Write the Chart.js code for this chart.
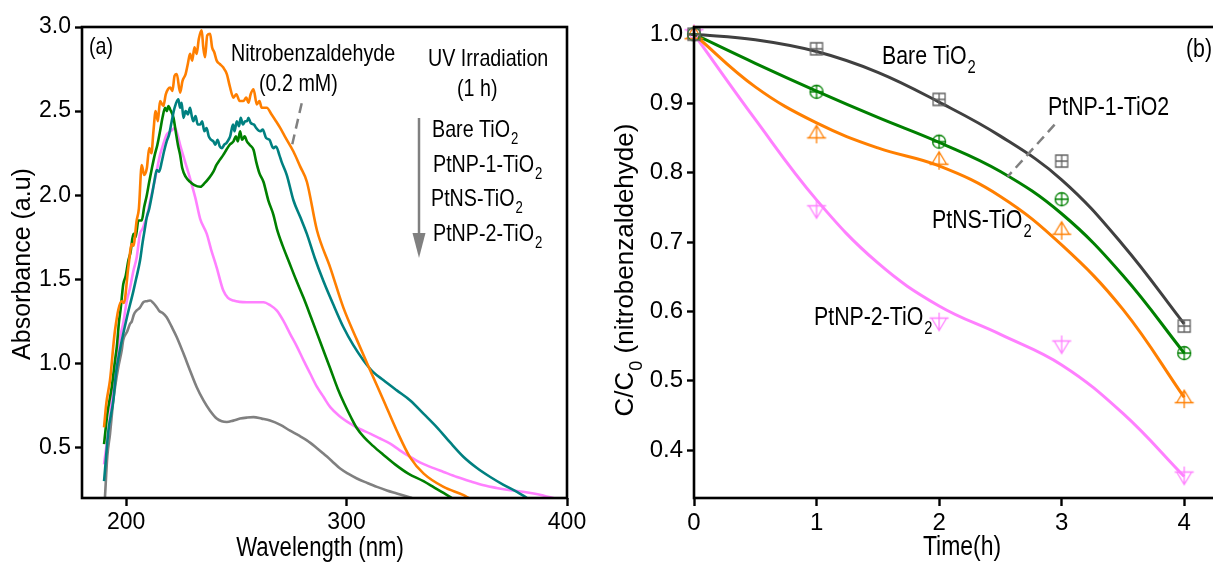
<!DOCTYPE html>
<html>
<head>
<meta charset="utf-8">
<script src="https://cdn.jsdelivr.net/npm/chart.js@4.4.0/dist/chart.umd.min.js"></script>
<style>
  html, body { margin: 0; padding: 0; background: #fff; overflow: hidden; }
  body { width: 1213px; height: 563px; position: relative; }
  .panel { position: absolute; top: 0; }
  #panelA { left: 0; }
  #panelB { left: 600px; }
</style>
</head>
<body>
<div class="panel" id="panelA"><canvas id="chartA" width="600" height="563"></canvas></div>
<div class="panel" id="panelB"><canvas id="chartB" width="640" height="563"></canvas></div>
<script>
const FONT = "'Liberation Sans', Arial, sans-serif";
const NARROW = 0.82; // the figure uses a condensed face, squeeze text to match

const ORANGE = '#ff7f00';
const TEAL = '#008080';
const GREEN = '#008000';
const PINK = '#ff80ff';
const GRAY = '#808080';
const DARK = '#404040';

// panel (a): UV-vis spectra, [wavelength (nm), absorbance]
const nitroSpectrum = [
  [190, 0.62], [191, 0.76], [192.7, 0.90], [195, 1.20], [198, 1.37], [199, 1.36], [201, 1.57],
  [202.6, 1.71], [203.3, 1.70], [204.8, 1.85], [205.8, 1.92], [207.1, 2.18], [208.2, 2.12],
  [209.4, 2.16], [210.5, 2.28], [211.5, 2.25], [212.4, 2.38], [213.4, 2.50], [214.4, 2.44],
  [215.4, 2.56], [216.9, 2.53], [218, 2.60], [219, 2.63], [220, 2.64], [221, 2.62], [222, 2.71],
  [223, 2.72], [224.5, 2.61], [225.6, 2.68], [227, 2.72], [228, 2.78], [229, 2.84], [230, 2.80],
  [231, 2.88], [232, 2.84], [233, 2.93], [234.3, 2.98], [235, 2.88], [235.8, 2.82], [236.8, 2.95],
  [238.1, 2.96], [239, 2.88], [240, 2.85], [241.1, 2.80], [242.5, 2.78], [244, 2.76], [245.7, 2.72],
  [247, 2.65], [248.7, 2.58], [250, 2.60], [251.5, 2.56], [253.2, 2.56], [254.5, 2.58], [255.5, 2.55],
  [256.5, 2.60], [257.8, 2.63], [259.3, 2.54], [260.5, 2.56], [261.5, 2.52], [263.8, 2.52],
  [266, 2.48], [268, 2.44], [269.9, 2.40], [272, 2.35], [275.9, 2.26], [279, 2.17], [282, 2.08],
  [286.6, 1.79], [292.6, 1.57], [298.6, 1.33], [304.7, 1.14], [310.7, 0.96], [316.8, 0.78],
  [322.8, 0.60], [328.9, 0.44], [335, 0.345], [344, 0.266], [353.1, 0.217], [355.4, 0.20]
];
const bareSpectrum = [
  [190, 0.30], [192, 0.60], [194.2, 0.78], [195.5, 0.95], [197.2, 1.08], [200.3, 1.27], [203.3, 1.43],
  [204.5, 1.50], [206.3, 1.61], [207.5, 1.72], [208.5, 1.80], [209.4, 1.87], [210.5, 1.92],
  [211.7, 2.00], [212.8, 2.08], [213.9, 2.15], [215, 2.14], [216.2, 2.20], [217.2, 2.26],
  [218.4, 2.32], [219.5, 2.36], [220.7, 2.44], [222, 2.52], [223.7, 2.57], [224.5, 2.52],
  [225.2, 2.55], [226, 2.46], [227, 2.50], [228, 2.48], [229, 2.52], [229.8, 2.47], [230.5, 2.44],
  [231.5, 2.47], [232.5, 2.42], [233.6, 2.42], [234.5, 2.44], [235.5, 2.38], [236.5, 2.40],
  [237.5, 2.35], [238.5, 2.33], [239.6, 2.32], [240.5, 2.30], [241.5, 2.33], [242.5, 2.29],
  [243.4, 2.28], [244.5, 2.30], [245.5, 2.31], [246.5, 2.33], [247.2, 2.35], [248.5, 2.42],
  [249.2, 2.38], [250.2, 2.44], [251.2, 2.41], [252, 2.46], [253, 2.42], [254, 2.44], [254.8, 2.44],
  [255.5, 2.46], [256.5, 2.43], [258, 2.42], [259, 2.40], [260.8, 2.38], [262, 2.39], [263.5, 2.34],
  [265, 2.33], [266.8, 2.28], [268, 2.29], [269.5, 2.24], [270.5, 2.20], [272.9, 2.12],
  [275.9, 1.97], [279, 1.87], [282, 1.77], [285.5, 1.63], [289.5, 1.49], [294, 1.35], [298.6, 1.215],
  [303, 1.11], [307.7, 1.018], [312, 0.95], [316.8, 0.90], [322.8, 0.84], [328.9, 0.78], [335, 0.70],
  [341, 0.62], [347, 0.53], [353.1, 0.444], [359, 0.38], [365.2, 0.325], [371, 0.28], [377.3, 0.236],
  [381.9, 0.20]
];
const ptnp1Spectrum = [
  [190, 0.52], [191.5, 0.70], [193.5, 0.86], [195, 1.02], [195.8, 1.10], [196.8, 1.25], [197.5, 1.32],
  [198.7, 1.47], [199.8, 1.52], [201, 1.61], [202, 1.66], [203.3, 1.77], [204.3, 1.75], [205.6, 1.85],
  [207.1, 1.85], [208.2, 1.93], [209.4, 2.00], [210.5, 2.08], [211.7, 2.16], [213, 2.24], [214.2, 2.30],
  [215.4, 2.38], [216.5, 2.46], [217.7, 2.52], [218.5, 2.50], [219.2, 2.53], [220, 2.51], [221.5, 2.46],
  [222.5, 2.38], [223.5, 2.30], [224.5, 2.24], [225.5, 2.16], [227, 2.11], [229, 2.08], [231, 2.06],
  [233.6, 2.05], [235.5, 2.07], [237.5, 2.10], [239.6, 2.14], [241, 2.18], [242.5, 2.21], [244.1, 2.24],
  [245.5, 2.27], [247, 2.30], [248.7, 2.32], [249.8, 2.35], [250.7, 2.32], [251.7, 2.38], [252.6, 2.33],
  [253.8, 2.35], [254.8, 2.32], [256, 2.30], [257.8, 2.27], [259, 2.20], [260.5, 2.13], [262.3, 2.08],
  [264.5, 1.97], [266.8, 1.885], [268.4, 1.80], [271, 1.70], [274, 1.60], [277, 1.50], [280.5, 1.39],
  [284, 1.27], [288, 1.13], [292.6, 0.97], [296, 0.85], [299, 0.76], [302, 0.68], [304.7, 0.615],
  [308, 0.56], [312, 0.51], [316.8, 0.456], [322, 0.40], [328, 0.345], [334.9, 0.30], [340, 0.26],
  [344, 0.23], [347.8, 0.20]
];
const ptnsSpectrum = [
  [190, 0.40], [192.7, 0.68], [194.2, 0.88], [195.8, 1.00], [197.2, 1.15], [198.7, 1.24], [200.3, 1.37],
  [201.8, 1.45], [203.3, 1.55], [204.8, 1.63], [206.3, 1.77], [207.5, 1.80], [208.5, 1.84], [209.4, 1.87],
  [210.8, 1.96], [212.4, 2.05], [213.8, 2.14], [215.4, 2.24], [216.8, 2.30], [218.4, 2.36], [220.2, 2.38],
  [222.2, 2.40], [223.3, 2.36], [224.5, 2.30], [226.5, 2.21], [229, 2.10], [231.5, 1.98], [233.6, 1.86],
  [236.6, 1.77], [238.5, 1.68], [241.1, 1.57], [244.1, 1.433], [246.2, 1.39], [248.7, 1.374],
  [251.5, 1.366], [254.8, 1.364], [258.5, 1.364], [262.3, 1.364], [265.5, 1.345], [268.4, 1.314],
  [271.5, 1.25], [274.4, 1.176], [277.5, 1.10], [280.5, 1.018], [283.5, 0.94], [286.6, 0.86],
  [289.6, 0.80], [292.6, 0.74], [297, 0.685], [301.7, 0.642], [306, 0.61], [310.7, 0.583], [315, 0.555],
  [319.8, 0.523], [324, 0.485], [328.9, 0.444], [333.5, 0.41], [338, 0.385], [344, 0.355], [350.1, 0.325],
  [356, 0.30], [362.2, 0.276], [368, 0.26], [374.3, 0.246], [380, 0.237], [384.9, 0.227], [389.5, 0.214],
  [393.9, 0.20]
];
const ptnp2Spectrum = [
  [190.4, 0.20], [191.5, 0.45], [192.7, 0.58], [194.2, 0.78], [195, 0.86], [196.5, 0.98], [198, 1.077],
  [198.7, 1.14], [200.5, 1.19], [201.8, 1.236], [202.6, 1.25], [203.5, 1.29], [204.8, 1.315],
  [206.2, 1.33], [207.8, 1.364], [209.3, 1.37], [210.9, 1.374], [212.3, 1.36], [213.9, 1.334],
  [215.2, 1.31], [216.6, 1.30], [218.4, 1.275], [220.6, 1.22], [223, 1.156], [226, 1.06], [229, 0.958],
  [232, 0.86], [235.1, 0.78], [238, 0.72], [241.1, 0.672], [243.4, 0.656], [245.7, 0.652], [248.6, 0.66],
  [251.7, 0.672], [254.8, 0.678], [257.8, 0.681], [261.5, 0.672], [265.3, 0.661], [270, 0.635],
  [274.4, 0.60], [278.3, 0.572], [282, 0.543], [285.8, 0.505], [289.5, 0.464], [293.3, 0.42],
  [297.1, 0.375], [300.9, 0.343], [304.7, 0.316], [309.3, 0.29], [313.8, 0.266], [318.3, 0.245],
  [322.8, 0.227], [326.3, 0.213], [329.7, 0.20]
];
const wavelengthTicks = [200, 300, 400];
const absorbanceTicks = [0.5, 1.0, 1.5, 2.0, 2.5, 3.0];

// panel (b): C/C0 against irradiation time
const hours = [0, 1, 2, 3, 4];
const bareMeasured = [1.0, 0.979, 0.906, 0.817, 0.579];
const ptnp1Measured = [1.0, 0.917, 0.845, 0.762, 0.540];
const ptnsMeasured = [1.0, 0.857, 0.819, 0.718, 0.475];
const ptnp2Measured = [1.0, 0.746, 0.584, 0.551, 0.362];

const fitHours = [0, 0.5, 1, 1.5, 2, 2.5, 3, 3.5, 4];
const bareFit = [1.0, 0.992, 0.975, 0.945, 0.902, 0.853, 0.790, 0.696, 0.582];
const ptnp1Fit = [1.0, 0.958, 0.918, 0.880, 0.844, 0.802, 0.741, 0.652, 0.540];
const ptnsFit = [1.0, 0.924, 0.872, 0.836, 0.810, 0.766, 0.696, 0.603, 0.476];
const ptnp2Fit = [1.0, 0.877, 0.761, 0.670, 0.608, 0.567, 0.523, 0.453, 0.362];

const timeTicks = [0, 1, 2, 3, 4];
const ratioTicks = [0.4, 0.5, 0.6, 0.7, 0.8, 0.9, 1.0];


function toPoints(pairs) {
  return pairs.map(p => ({ x: p[0], y: p[1] }));
}

function zipPoints(xs, ys) {
  return xs.map((x, i) => ({ x: x, y: ys[i] }));
}

function spectrum(label, pairs, color) {
  return {
    label: label,
    data: toPoints(pairs),
    showLine: true,
    borderColor: color,
    borderWidth: 2.6,
    pointRadius: 0,
    cubicInterpolationMode: 'monotone',
    fill: false
  };
}

function fitLine(label, ys, color) {
  return {
    label: label,
    data: zipPoints(fitHours, ys),
    showLine: true,
    borderColor: color,
    borderWidth: 3,
    pointRadius: 0,
    tension: 0.4,
    fill: false
  };
}

function measured(label, ys, marker) {
  return {
    label: label,
    data: zipPoints(hours, ys),
    showLine: false,
    pointStyle: marker,
    pointRadius: 6,
    clip: false
  };
}

function makeMarker(shape, color) {
  let c = document.createElement('canvas');
  c.width = 24;
  c.height = 26;
  let g = c.getContext('2d');
  g.strokeStyle = color;
  g.lineWidth = 1.3;
  g.translate(12, 13);
  g.beginPath();
  if (shape == 'box') {
    g.rect(-6, -6, 12, 12);
    g.moveTo(0, -6); g.lineTo(0, 6);
    g.moveTo(-6, 0); g.lineTo(6, 0);
  } else if (shape == 'circle') {
    g.arc(0, 0, 6.5, 0, Math.PI * 2);
    g.moveTo(0, -6.5); g.lineTo(0, 6.5);
    g.moveTo(-6.5, 0); g.lineTo(6.5, 0);
  } else if (shape == 'up') {
    g.moveTo(0, -8); g.lineTo(7.5, 4.5); g.lineTo(-7.5, 4.5); g.closePath();
    g.moveTo(0, -8); g.lineTo(0, 10);
    g.moveTo(-9.5, 4.5); g.lineTo(9.5, 4.5);
  } else {
    g.moveTo(0, 8); g.lineTo(7.5, -4.5); g.lineTo(-7.5, -4.5); g.closePath();
    g.moveTo(0, -10); g.lineTo(0, 8);
    g.moveTo(-9.5, -4.5); g.lineTo(9.5, -4.5);
  }
  g.stroke();
  return c;
}

// text made of pieces (some subscript), squeezed horizontally by sx,
// left edge at x and vertically centred on y
function drawRich(ctx, pieces, x, y, size, sx) {
  sx = sx || NARROW;
  ctx.textBaseline = 'middle';
  ctx.textAlign = 'left';
  let cx = x;
  for (let p of pieces) {
    let fs = p.sub ? Math.round(size * 0.68) : size;
    let dy = p.sub ? size * 0.42 : 0;
    let gap = p.sub ? 1 : 0;
    ctx.font = fs + 'px ' + FONT;
    ctx.save();
    ctx.translate(cx + gap, y + dy);
    ctx.scale(sx, 1);
    ctx.fillText(p.t, 0, 0);
    ctx.restore();
    cx += ctx.measureText(p.t).width * sx + gap;
  }
  return cx - x;
}

function richWidth(ctx, pieces, size, sx) {
  sx = sx || NARROW;
  let w = 0;
  for (let p of pieces) {
    ctx.font = (p.sub ? Math.round(size * 0.68) : size) + 'px ' + FONT;
    w += ctx.measureText(p.t).width * sx + (p.sub ? 1 : 0);
  }
  return w;
}

function centredText(ctx, pieces, cx, cy, size, sx, rotate) {
  let w = richWidth(ctx, pieces, size, sx);
  ctx.save();
  ctx.translate(cx, cy);
  if (rotate) ctx.rotate(-Math.PI / 2);
  drawRich(ctx, pieces, -w / 2, 0, size, sx);
  ctx.restore();
}

function dashedLine(ctx, x1, y1, x2, y2) {
  ctx.save();
  ctx.strokeStyle = GRAY;
  ctx.lineWidth = 2.5;
  ctx.setLineDash([10, 6]);
  ctx.beginPath();
  ctx.moveTo(x1, y1);
  ctx.lineTo(x2, y2);
  ctx.stroke();
  ctx.restore();
}

function drawFrame(chart) {
  let a = chart.chartArea;
  let ctx = chart.ctx;
  ctx.save();
  ctx.strokeStyle = '#000';
  ctx.lineWidth = 2.6;
  ctx.strokeRect(a.left, a.top, a.right - a.left, a.bottom - a.top);
  ctx.restore();
}

function axisOptions(min, max, tickValues, fontSize, decimals, fitSize, isX) {
  return {
    type: 'linear',
    min: min,
    max: max,
    afterBuildTicks: s => { s.ticks = tickValues.map(v => ({ value: v })); },
    afterFit: s => {
      if (isX) { s.height = fitSize; } else { s.width = fitSize; }
    },
    border: { display: false },
    grid: {
      display: true,
      drawOnChartArea: false,
      drawTicks: true,
      tickLength: isX ? 8 : 7,
      tickWidth: 2.4,
      tickColor: '#000'
    },
    ticks: {
      color: '#000',
      padding: isX ? 3 : 4,
      maxRotation: 0,
      font: { family: FONT, size: fontSize },
      callback: v => Number(v).toFixed(decimals)
    }
  };
}

// ---------- panel (a) ----------
const annotateA = {
  id: 'annotateA',
  afterDatasetsDraw(chart) {
    let ctx = chart.ctx;
    drawFrame(chart);
    ctx.save();
    ctx.fillStyle = '#000';
    centredText(ctx, [{ t: 'Wavelength (nm)' }], 320, 549, 27);
    centredText(ctx, [{ t: 'Absorbance (a.u)' }], 23, 264, 25, 1, true);

    drawRich(ctx, [{ t: '(a)' }], 89, 47, 24);
    drawRich(ctx, [{ t: 'Nitrobenzaldehyde' }], 231, 54, 24);
    drawRich(ctx, [{ t: '(0.2 mM)' }], 259, 84, 24);
    drawRich(ctx, [{ t: 'UV Irradiation' }], 428, 59, 24);
    drawRich(ctx, [{ t: '(1 h)' }], 457, 89, 24);
    drawRich(ctx, [{ t: 'Bare TiO' }, { t: '2', sub: true }], 432, 130, 24);
    drawRich(ctx, [{ t: 'PtNP-1-TiO' }, { t: '2', sub: true }], 433, 165, 24);
    drawRich(ctx, [{ t: 'PtNS-TiO' }, { t: '2', sub: true }], 431, 199, 24);
    drawRich(ctx, [{ t: 'PtNP-2-TiO' }, { t: '2', sub: true }], 433, 234, 24);
    dashedLine(ctx, 301.7, 103.3, 291.7, 146.7);

    // grey arrow beside the sample list
    ctx.strokeStyle = GRAY;
    ctx.fillStyle = GRAY;
    ctx.lineWidth = 2.5;
    ctx.beginPath();
    ctx.moveTo(419, 118);
    ctx.lineTo(419, 236);
    ctx.stroke();
    ctx.beginPath();
    ctx.moveTo(412.5, 233);
    ctx.lineTo(425.5, 233);
    ctx.lineTo(419, 258);
    ctx.closePath();
    ctx.fill();
    ctx.restore();
  }
};

new Chart(document.getElementById('chartA'), {
  type: 'scatter',
  data: {
    datasets: [
      spectrum('Nitrobenzaldehyde', nitroSpectrum, ORANGE),
      spectrum('Bare TiO2', bareSpectrum, TEAL),
      spectrum('PtNP-1-TiO2', ptnp1Spectrum, GREEN),
      spectrum('PtNS-TiO2', ptnsSpectrum, PINK),
      spectrum('PtNP-2-TiO2', ptnp2Spectrum, GRAY)
    ]
  },
  options: {
    responsive: false,
    animation: false,
    devicePixelRatio: 1,
    layout: { padding: { top: 27, right: 33, bottom: 0, left: 0 } },
    plugins: { legend: { display: false }, tooltip: { enabled: false } },
    scales: {
      x: axisOptions(180, 400, wavelengthTicks, 23, 0, 65, true),
      y: axisOptions(0.2, 3.0, absorbanceTicks, 23, 1, 82, false)
    }
  },
  plugins: [annotateA]
});

// ---------- panel (b) ----------
const annotateB = {
  id: 'annotateB',
  afterDatasetsDraw(chart) {
    let ctx = chart.ctx;
    drawFrame(chart);
    ctx.save();
    ctx.fillStyle = '#000';
    // canvas starts at page x 600
    centredText(ctx, [{ t: 'Time(h)' }], 362, 547, 28);
    centredText(ctx, [{ t: 'C/C' }, { t: '0', sub: true }, { t: ' (nitrobenzaldehyde)' }], 26, 270, 26, 1, true);

    drawRich(ctx, [{ t: 'Bare TiO' }, { t: '2', sub: true }], 282, 57, 26);
    drawRich(ctx, [{ t: 'PtNP-1-TiO2' }], 448, 108, 26);
    drawRich(ctx, [{ t: 'PtNS-TiO' }, { t: '2', sub: true }], 332, 221, 26);
    drawRich(ctx, [{ t: 'PtNP-2-TiO' }, { t: '2', sub: true }], 214, 318, 26);
    drawRich(ctx, [{ t: '(b)' }], 586, 50, 26);
    dashedLine(ctx, 454.6, 124.7, 407.6, 176.7);
    ctx.restore();
  }
};

new Chart(document.getElementById('chartB'), {
  type: 'scatter',
  data: {
    datasets: [
      measured('Bare TiO2 data', bareMeasured, makeMarker('box', '#606060')),
      measured('PtNP-1-TiO2 data', ptnp1Measured, makeMarker('circle', GREEN)),
      measured('PtNS-TiO2 data', ptnsMeasured, makeMarker('up', ORANGE)),
      measured('PtNP-2-TiO2 data', ptnp2Measured, makeMarker('down', PINK)),
      fitLine('Bare TiO2', bareFit, DARK),
      fitLine('PtNP-1-TiO2', ptnp1Fit, GREEN),
      fitLine('PtNS-TiO2', ptnsFit, ORANGE),
      fitLine('PtNP-2-TiO2', ptnp2Fit, PINK)
    ]
  },
  options: {
    responsive: false,
    animation: false,
    devicePixelRatio: 1,
    layout: { padding: { top: 27, right: 19, bottom: 0, left: 0 } },
    plugins: { legend: { display: false }, tooltip: { enabled: false } },
    scales: {
      x: axisOptions(0, 4.3, timeTicks, 24, 0, 65, true),
      y: axisOptions(0.331, 1.0104, ratioTicks, 24, 1, 94, false)
    }
  },
  plugins: [annotateB]
});
</script>
</body>
</html>
